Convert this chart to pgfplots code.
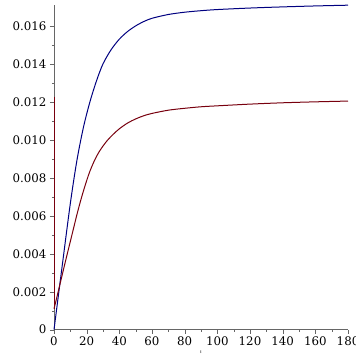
\documentclass[border=0pt]{standalone}
\usepackage{fontspec}
\setmainfont{DejaVu Serif}
\usepackage{pgfplots}
\pgfplotsset{compat=1.18}
\usetikzlibrary{calc}
\definecolor{mblue}{RGB}{0,0,128}
\definecolor{mred}{RGB}{120,0,14}
\begin{document}
\begin{tikzpicture}
\begin{axis}[
  scale only axis, width=294pt, height=324.7pt,
  xmin=0, xmax=180, ymin=0, ymax=0.0171,
  axis lines=left,
  axis line style={gray!80!black, -},
  tick style={gray!80!black},
  tick align=outside,
  major tick length=4pt, minor tick length=2pt,
  xtick={0,20,...,180},
  ytick={0,0.002,0.004,0.006,0.008,0.010,0.012,0.014,0.016},
  yticklabels={0,0.002,0.004,0.006,0.008,0.010,0.012,0.014,0.016},
  scaled y ticks=false,
  minor x tick num=1, minor y tick num=1,
  /pgf/number format/assume math mode=true,
  tick label style={font=\fontsize{11.8}{12}\selectfont},
  xlabel={\fontsize{4}{4}\selectfont\itshape t},
  xlabel style={at={(axis description cs:0.5,0)}, anchor=center, yshift=-22pt},
  clip=false,
]
\addplot[mblue, line width=1pt, smooth, tension=0.5] coordinates {
(0,0) (5,0.00335) (10,0.00665) (14,0.00890) (18,0.01065) (22,0.01200)
(26,0.01310) (30,0.01400) (35,0.01475) (40,0.01530) (45,0.01570)
(50,0.01600) (55,0.01623) (60,0.01640) (70,0.01660) (80,0.01672)
(90,0.01680) (100,0.01686) (120,0.01694) (140,0.01700) (160,0.01705) (180,0.01709)
};
\addplot[mred, line width=1pt] coordinates {(0,0.01228) (0,0.00110)};
\addplot[mred, line width=1pt, smooth, tension=0.5] coordinates {
(0,0.00110) (2,0.00180) (4,0.00252) (6,0.00324) (8,0.00395)
(10,0.00465) (12,0.00535) (14,0.00605) (16,0.00670) (18,0.00730)
(20,0.00785) (22,0.00835) (25,0.00895) (28,0.00942) (32,0.00990)
(36,0.01027) (40,0.01058) (45,0.01088) (50,0.01110) (55,0.01127)
(60,0.01139) (70,0.01156) (80,0.01166) (90,0.01174) (100,0.01179)
(120,0.01188) (140,0.01195) (160,0.01200) (180,0.01204)
};
\coordinate (bl) at (rel axis cs:0,0);
\coordinate (tr) at (rel axis cs:1,1);
\end{axis}
\pgfresetboundingbox
\path[use as bounding box] ($(bl)+(-54pt,-25.3pt)$) rectangle ($(tr)+(7pt,5pt)$);
\end{tikzpicture}
\end{document}
